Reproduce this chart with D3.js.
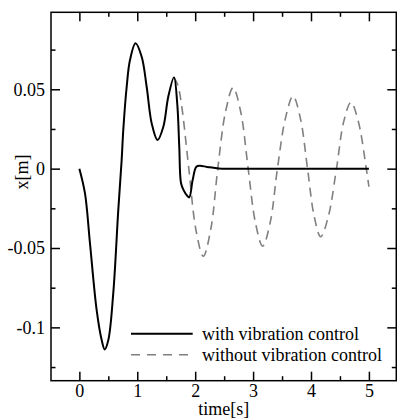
<!DOCTYPE html>
<html>
<head>
<meta charset="utf-8">
<script src="https://cdn.jsdelivr.net/npm/d3@7"></script>
<style>
  body { margin: 0; background: #fff; }
  svg { display: block; }
</style>
</head>
<body>
<svg id="chart" width="397" height="419"></svg>
<script>
// time [s] and displacement [m]
const tSolid = [0, 0.097, 0.183, 0.298, 0.385, 0.437, 0.5, 0.585, 0.672, 0.73, 0.758, 0.817, 0.874, 0.97,
    1.076, 1.162, 1.249, 1.35, 1.45, 1.535, 1.634, 1.69, 1.725, 1.755, 1.8, 1.86, 1.898, 1.956, 2.02,
    2.083, 2.2, 2.31, 2.46, 3.0, 4.0, 5.0];
const xSolid = [0, -0.0156, -0.047, -0.089, -0.108, -0.1139, -0.108, -0.0786, -0.026, 0.0054, 0.0243, 0.0516, 0.0684, 0.079,
    0.0705, 0.0516, 0.0285, 0.018, 0.0264, 0.0453, 0.0575, 0.041, 0.0138, -0.009, -0.0135, -0.017, -0.0181, -0.0072, 0.0012,
    0.0018, 0.0011, 0.0006, 0, 0, 0, 0];

const tDashed = [1.634, 1.70, 1.765, 1.89, 2.015, 2.14, 2.27, 2.39, 2.525, 2.655, 2.785, 2.915, 3.04, 3.165,
    3.295, 3.42, 3.56, 3.69, 3.815, 3.94, 4.055, 4.167, 4.30, 4.44, 4.565, 4.69, 4.815, 4.955, 5.0];
const xDashed = [0.0575, 0.0527, 0.040, 0.0, -0.039, -0.0552, -0.038, 0.0, 0.036, 0.051, 0.036, 0.0, -0.034, -0.0488,
    -0.034, 0.0, 0.032, 0.0457, 0.032, 0.0, -0.030, -0.0429, -0.030, 0.0, 0.0296, 0.0418, 0.030, 0.0, -0.0114];

const xTicks = [0, 1, 2, 3, 4, 5],
    xMinorTicks = [0.5, 1.5, 2.5, 3.5, 4.5],
    yTicks = [0.05, 0, -0.05, -0.1],
    yTickLabels = ["0.05", "0", "-0.05", "-0.1"],
    yMinorTicks = [0.075, 0.025, -0.025, -0.075, -0.125],
    legendLabels = ["with vibration control", "without vibration control"];

const FONT = "Liberation Serif";

const svg = d3.select("#chart").attr("font-family", FONT),
    plotL = 51, plotR = 396.3, plotT = 12.3, plotB = 380.7;

const x = d3.scaleLinear().domain([-0.49, 5.473]).range([plotL, plotR]),
    y = d3.scaleLinear().domain([-0.1336, 0.0985]).range([plotB, plotT]);

const line = d3.line()
    .x(d => x(d[0]))
    .y(d => y(d[1]))
    .curve(d3.curveCatmullRom.alpha(0.5));

// dashed first so the solid sits on top
svg.append("path")
    .datum(tDashed.map((t, i) => [t, xDashed[i]]))
    .attr("d", line)
    .attr("fill", "none")
    .attr("stroke", "#808080")
    .attr("stroke-width", 1.6)
    .attr("stroke-dasharray", "9,6");

svg.append("path")
    .datum(tSolid.map((t, i) => [t, xSolid[i]]))
    .attr("d", line)
    .attr("fill", "none")
    .attr("stroke", "#000")
    .attr("stroke-width", 2);

// axes: ticks point inward on all four sides
function addAxis(axis, transform, labels) {
    const g = svg.append("g").attr("transform", transform).call(axis);
    g.select(".domain").remove();
    g.attr("font-family", FONT).attr("font-size", 18);
    g.selectAll("line").attr("stroke", "#000").attr("stroke-width", 1.5);
    g.selectAll("text").attr("font-family", FONT).attr("font-size", 18).attr("fill", "#000");
    if (!labels) g.selectAll("text").remove();
    return g;
}

addAxis(d3.axisBottom(x).tickValues(xTicks).tickSize(-9).tickPadding(4).tickFormat(d3.format("d")),
    `translate(0,${plotB})`, true);
addAxis(d3.axisBottom(x).tickValues(xMinorTicks).tickSize(-4.5), `translate(0,${plotB})`, false);
addAxis(d3.axisTop(x).tickValues(xTicks).tickSize(-9), `translate(0,${plotT})`, false);
addAxis(d3.axisTop(x).tickValues(xMinorTicks).tickSize(-4.5), `translate(0,${plotT})`, false);

addAxis(d3.axisLeft(y).tickValues(yTicks).tickSize(-9).tickPadding(6)
    .tickFormat((d, i) => yTickLabels[i]), `translate(${plotL},0)`, true);
addAxis(d3.axisLeft(y).tickValues(yMinorTicks).tickSize(-4.5), `translate(${plotL},0)`, false);
addAxis(d3.axisRight(y).tickValues(yTicks).tickSize(-9), `translate(${plotR},0)`, false);
addAxis(d3.axisRight(y).tickValues(yMinorTicks).tickSize(-4.5), `translate(${plotR},0)`, false);

svg.append("rect")
    .attr("x", plotL).attr("y", plotT)
    .attr("width", plotR - plotL).attr("height", plotB - plotT)
    .attr("fill", "none").attr("stroke", "#000").attr("stroke-width", 1.5);

// axis titles
svg.append("text")
    .attr("x", (plotL + plotR) / 2).attr("y", 415)
    .attr("text-anchor", "middle")
    .attr("font-family", FONT).attr("font-size", 18)
    .text("time[s]");

svg.append("text")
    .attr("transform", "translate(28,172) rotate(-90)")
    .attr("text-anchor", "middle")
    .attr("font-family", FONT).attr("font-size", 18)
    .text("x[m]");

// legend
const legend = svg.append("g");
const legendRows = [
    { y: 333.7, stroke: "#000", width: 2, dash: null, x2: 192.7 },
    { y: 354.7, stroke: "#808080", width: 1.6, dash: "9,7", x2: 188 }
];
legendRows.forEach((r, i) => {
    legend.append("line")
        .attr("x1", 131).attr("x2", r.x2)
        .attr("y1", r.y).attr("y2", r.y)
        .attr("stroke", r.stroke).attr("stroke-width", r.width)
        .attr("stroke-dasharray", r.dash);
    legend.append("text")
        .attr("x", 202).attr("y", r.y + 6)
        .attr("font-family", FONT).attr("font-size", 18)
        .text(legendLabels[i]);
});
</script>
</body>
</html>
